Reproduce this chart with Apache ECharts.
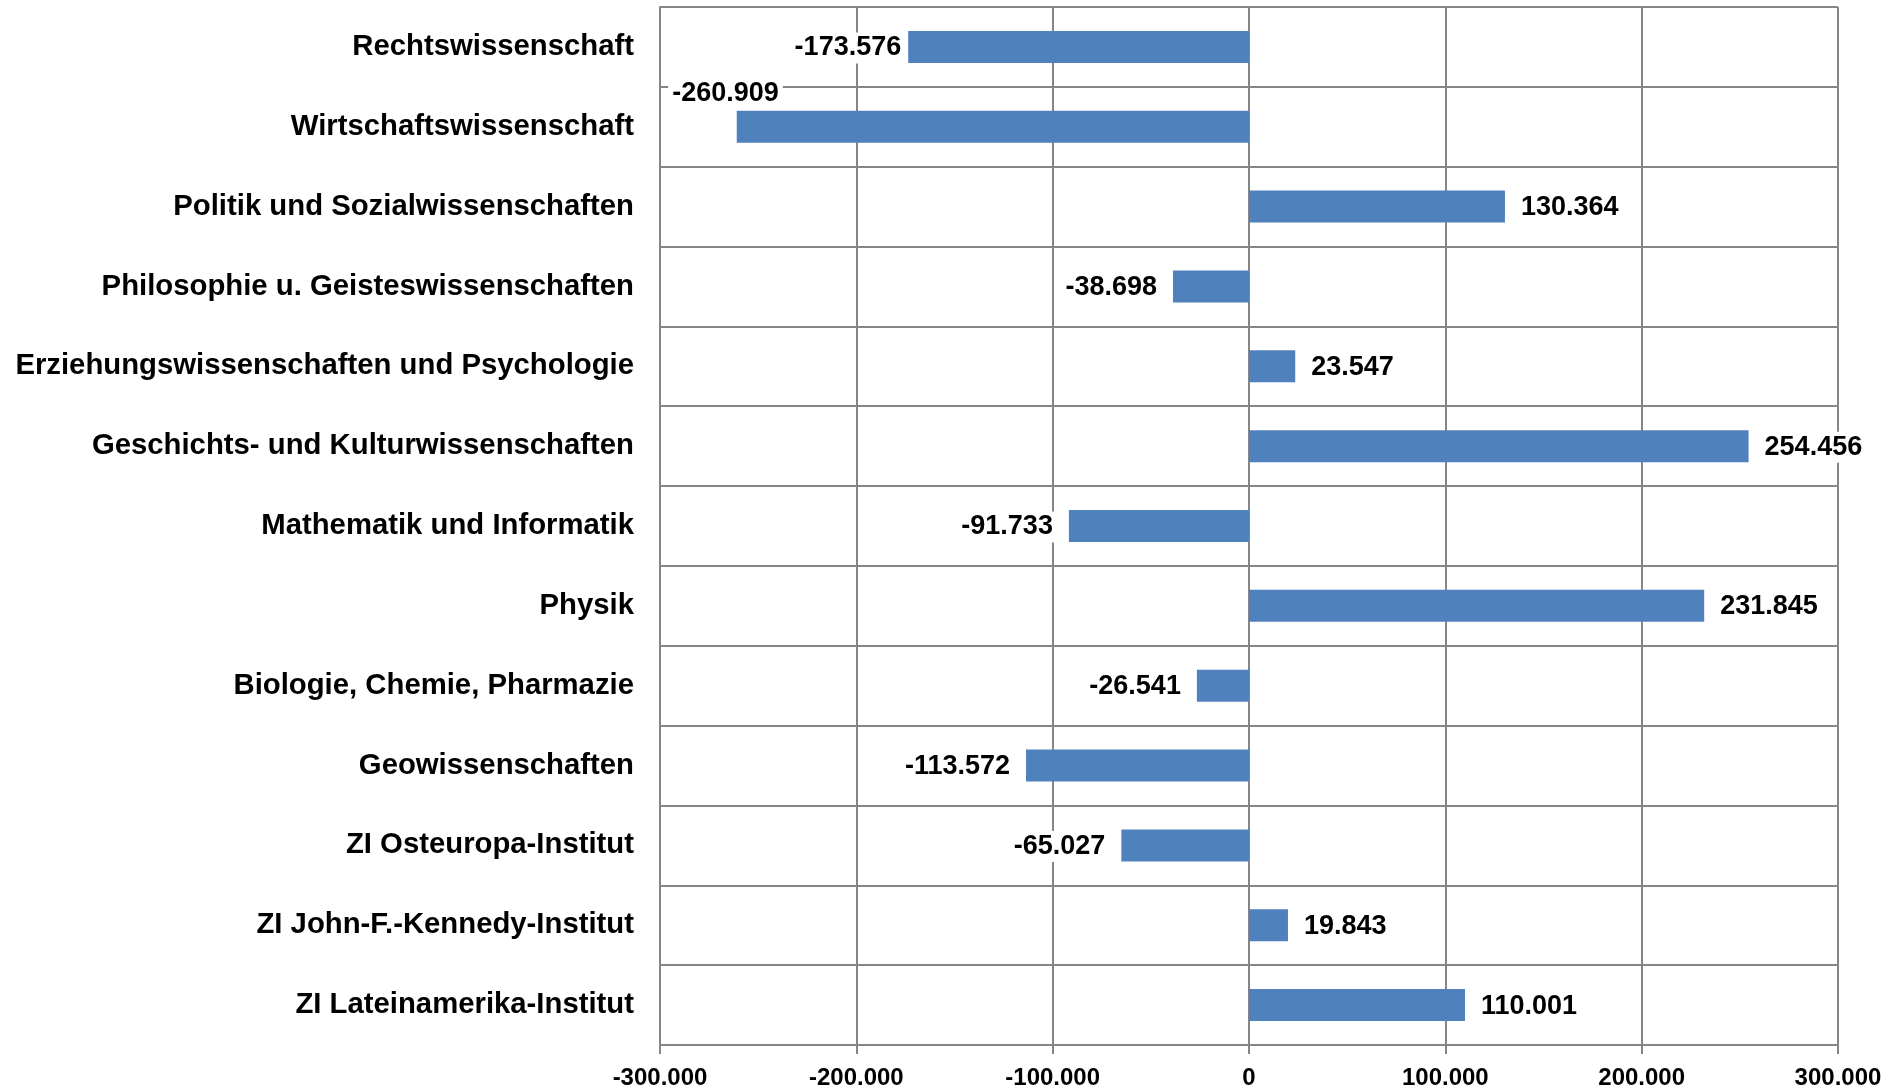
<!DOCTYPE html>
<html>
<head>
<meta charset="utf-8">
<script src="https://cdn.jsdelivr.net/npm/echarts@6/dist/echarts.min.js"></script>
<style>
html,body{margin:0;padding:0;background:#fff;}
#chart{width:1901px;height:1091px;}
</style>
</head>
<body>
<div id="chart"></div>
<script>
const categories = [
  'Rechtswissenschaft',
  'Wirtschaftswissenschaft',
  'Politik und Sozialwissenschaften',
  'Philosophie u. Geisteswissenschaften',
  'Erziehungswissenschaften und Psychologie',
  'Geschichts- und Kulturwissenschaften',
  'Mathematik und Informatik',
  'Physik',
  'Biologie, Chemie, Pharmazie',
  'Geowissenschaften',
  'ZI Osteuropa-Institut',
  'ZI John-F.-Kennedy-Institut',
  'ZI Lateinamerika-Institut'
];
const values = [-173576, -260909, 130364, -38698, 23547, 254456, -91733, 231845, -26541, -113572, -65027, 19843, 110001];
const axisMin = -300000, axisMax = 300000, axisInterval = 100000;

function fmt(v) {
  const s = Math.abs(Math.round(v)).toString().replace(/\B(?=(\d{3})+(?!\d))/g, '.');
  return (v < 0 ? '-' : '') + s;
}

const FONT = '"Liberation Sans", Arial, sans-serif';
const GRID = '#868686';

const data = values.map((v, i) => {
  const label = {
    show: true,
    position: v < 0 ? 'left' : 'right',
    distance: 12,
    backgroundColor: '#fff',
    padding: [2, 4],
    offset: [0, 1]
  };
  if (i === 0) label.offset = [9, 1];
  if (i === 1) {
    label.position = 'left';
    label.offset = [58, -33];
  }
  return { value: v, label: label };
});

const chart = echarts.init(document.getElementById('chart'), null, { renderer: 'canvas' });
chart.setOption({
  animation: false,
  grid: { left: 660, right: 63, top: 7, bottom: 46, containLabel: false },
  xAxis: {
    type: 'value',
    min: axisMin, max: axisMax, interval: axisInterval,
    axisLine: { show: true, lineStyle: { color: GRID, width: 2 } },
    axisTick: { show: true, length: 9, lineStyle: { color: GRID, width: 2 } },
    splitLine: { show: true, lineStyle: { color: GRID, width: 2 } },
    axisLabel: {
      formatter: v => fmt(v),
      fontFamily: FONT, fontWeight: 'bold', fontSize: 24, color: '#000', margin: 21
    }
  },
  yAxis: {
    type: 'category',
    data: categories,
    inverse: true,
    axisLine: { show: true, onZero: false, lineStyle: { color: GRID, width: 2 } },
    axisTick: { show: false },
    splitLine: { show: true, lineStyle: { color: GRID, width: 2 } },
    axisLabel: {
      fontFamily: FONT, fontWeight: 'bold', fontSize: 29.3, color: '#000', margin: 26,
      padding: [7, 0, 0, 0]
    }
  },
  series: [{
    type: 'bar',
    data: data,
    barWidth: 32,
    itemStyle: { color: '#4F81BD' },
    label: {
      fontFamily: FONT, fontWeight: 'bold', fontSize: 27, color: '#000',
      formatter: p => fmt(p.value)
    },
    z: 3
  }]
});
</script>
</body>
</html>
